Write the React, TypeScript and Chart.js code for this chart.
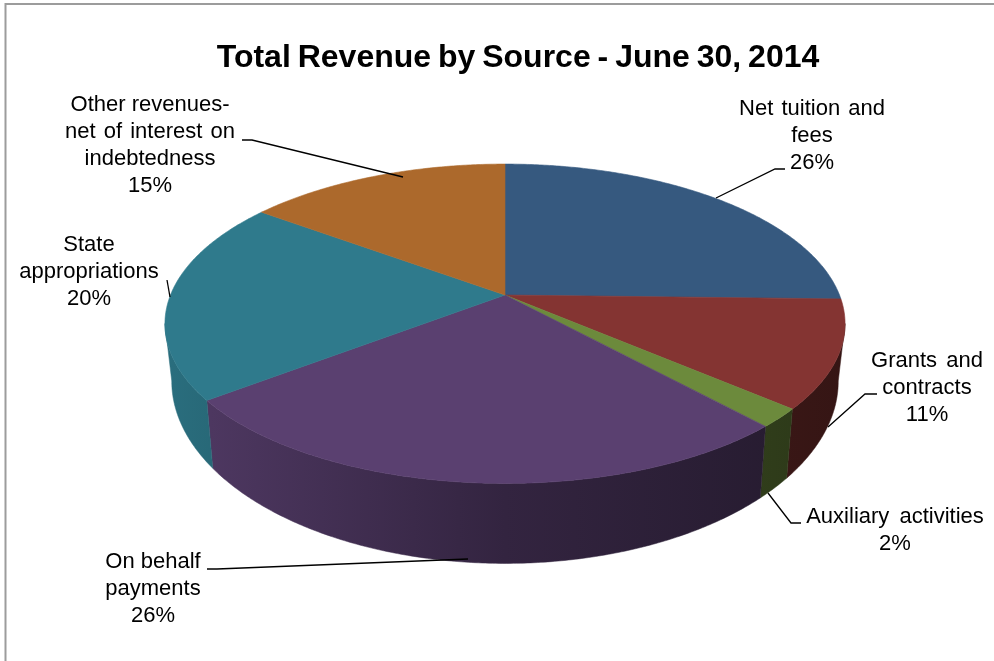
import React, { useEffect, useRef } from "react";
import { Chart, registerables } from "chart.js";

Chart.register(...registerables);

const categories = [
  "Net tuition and fees",
  "Grants and contracts",
  "Auxiliary activities",
  "On behalf payments",
  "State appropriations",
  "Other revenues-net of interest on indebtedness",
];
const revenueShare = [25.4, 10.9, 1.9, 26.4, 20.5, 14.9];
const percentLabels = ["26%", "11%", "2%", "26%", "20%", "15%"];
const labelLines = [
  ["Net tuition and", "fees"],
  ["Grants and", "contracts"],
  ["Auxiliary activities"],
  ["On behalf", "payments"],
  ["State", "appropriations"],
  ["Other revenues-", "net of interest on", "indebtedness"],
];
const sliceColors = ["#36597f", "#843432", "#6c8a3c", "#5a4070", "#2f7a8c", "#ac692c"];

// Layout of the annotations: label centre x, first line y, word spacing, leader polyline
const annotationLayout = [
  { x: 812, y: 109, ws: [2, 0, 0], leader: [[785, 169], [775, 169], [716, 198]] },
  { x: 927, y: 361, ws: [3, 0, 0], leader: [[877, 394], [865, 394], [828, 427]] },
  { x: 895, y: 517, ws: [4, 0], leader: [[801, 523], [791, 523], [768, 493]] },
  { x: 153, y: 562, ws: [0, 0, 0], leader: [[207, 569], [217, 569], [468, 559]] },
  { x: 89, y: 245, ws: [0, 0, 0], leader: [[167, 280], [170, 297]] },
  { x: 150, y: 105, ws: [0, 2, 0, 0], leader: [[242, 140], [252, 140], [403, 177]] },
];

// Perspective view of the pie disc
const CX = 505;
const CY = 295;
const K = 0.18;
const AX = 334.5;
const BY = 154.5;
const DEPTH = 53.8;
const VIS_FROM = (100.3 * Math.PI) / 180;
const VIS_TO = (259.7 * Math.PI) / 180;

function rim(theta: number) {
  const u = Math.sin(theta);
  const v = Math.cos(theta);
  const d = 1 + K * v;
  return { x: CX + (AX * u) / d, y: CY - (BY * v) / d, d };
}
function rimBottom(theta: number) {
  const p = rim(theta);
  return { x: CX + (p.x - CX) * 0.98, y: p.y + DEPTH / (p.d * p.d) };
}
function shade(hex: string, f: number) {
  const n = parseInt(hex.slice(1), 16);
  const r = Math.round(((n >> 16) & 255) * f);
  const g = Math.round(((n >> 8) & 255) * f);
  const b = Math.round((n & 255) * f);
  return `rgb(${r},${g},${b})`;
}

const pie3d = {
  id: "pie3d",
  beforeDraw(chart: any) {
    const { ctx } = chart;
    ctx.save();
    ctx.fillStyle = "#ffffff";
    ctx.fillRect(0, 0, 994, 661);
    ctx.strokeStyle = "#9c9c9c";
    ctx.lineWidth = 2;
    ctx.beginPath();
    ctx.moveTo(5.5, 661);
    ctx.lineTo(5.5, 4);
    ctx.lineTo(994, 4);
    ctx.stroke();
    ctx.restore();
    (ctx as any).wordSpacing = "-2px";
  },
  beforeDatasetsDraw(chart: any) {
    const { ctx } = chart;
    (ctx as any).wordSpacing = "0px";
    const arcs = chart.getDatasetMeta(0).data as any[];
    const toTheta = (a: number) => {
      const t = a + Math.PI / 2;
      return t < 0 ? t + Math.PI * 2 : t;
    };
    ctx.save();
    // outer wall
    arcs.forEach((arc, i) => {
      const color = sliceColors[i];
      const s = Math.max(toTheta(arc.startAngle), VIS_FROM);
      const e = Math.min(toTheta(arc.endAngle), VIS_TO);
      if (e <= s) return;
      const n = Math.max(2, Math.ceil((e - s) / (Math.PI / 360)));
      const grad = ctx.createLinearGradient(165, 0, 845, 0);
      grad.addColorStop(0, shade(color, 0.9));
      grad.addColorStop(0.5, shade(color, 0.57));
      grad.addColorStop(1, shade(color, 0.4));
      ctx.fillStyle = grad;
      ctx.strokeStyle = grad;
      ctx.lineWidth = 0.5;
      ctx.beginPath();
      for (let j = 0; j <= n; j++) {
        const p = rim(s + ((e - s) * j) / n);
        j ? ctx.lineTo(p.x, p.y) : ctx.moveTo(p.x, p.y);
      }
      for (let j = n; j >= 0; j--) {
        const p = rimBottom(s + ((e - s) * j) / n);
        ctx.lineTo(p.x, p.y);
      }
      ctx.closePath();
      ctx.fill();
      ctx.stroke();
    });
    // top face
    arcs.forEach((arc) => {
      const s = toTheta(arc.startAngle);
      const e = toTheta(arc.endAngle);
      const color = arc.options.backgroundColor;
      const n = Math.max(4, Math.ceil((e - s) / (Math.PI / 360)));
      ctx.fillStyle = color;
      ctx.strokeStyle = color;
      ctx.lineWidth = 0.6;
      ctx.beginPath();
      ctx.moveTo(CX, CY);
      for (let j = 0; j <= n; j++) {
        const p = rim(s + ((e - s) * j) / n);
        ctx.lineTo(p.x, p.y);
      }
      ctx.closePath();
      ctx.fill();
      ctx.stroke();
    });
    // leaders and labels
    ctx.strokeStyle = "#000000";
    ctx.fillStyle = "#000000";
    ctx.lineWidth = 1.3;
    ctx.font = '22px "Liberation Sans"';
    ctx.textAlign = "center";
    ctx.textBaseline = "middle";
    annotationLayout.forEach((l, i) => {
      ctx.beginPath();
      l.leader.forEach(([x, y], j) => (j ? ctx.lineTo(x, y) : ctx.moveTo(x, y)));
      ctx.stroke();
      [...labelLines[i], percentLabels[i]].forEach((line, j) => {
        (ctx as any).wordSpacing = `${l.ws[j] || 0}px`;
        ctx.fillText(line, l.x, l.y + j * 27);
      });
    });
    (ctx as any).wordSpacing = "0px";
    ctx.restore();
    return false;
  },
};

export default function App() {
  const ref = useRef<HTMLCanvasElement>(null);
  useEffect(() => {
    const chart = new Chart(ref.current as HTMLCanvasElement, {
      type: "pie",
      data: {
        labels: categories,
        datasets: [{ data: revenueShare, backgroundColor: sliceColors, borderWidth: 0 }],
      },
      options: {
        responsive: false,
        animation: false,
        devicePixelRatio: 1,
        layout: { padding: { left: 42 } },
        plugins: {
          legend: { display: false },
          tooltip: { enabled: false },
          title: {
            display: true,
            text: "Total Revenue by Source - June 30, 2014",
            color: "#000000",
            font: { family: '"Liberation Sans"', size: 32, weight: "bold" },
            padding: { top: 39, bottom: 10 },
          },
        },
      },
      plugins: [pie3d as any],
    });
    return () => chart.destroy();
  }, []);
  return (
    <canvas
      ref={ref}
      width={994}
      height={661}
      style={{ position: "fixed", left: 0, top: 0, display: "block" }}
    />
  );
}
